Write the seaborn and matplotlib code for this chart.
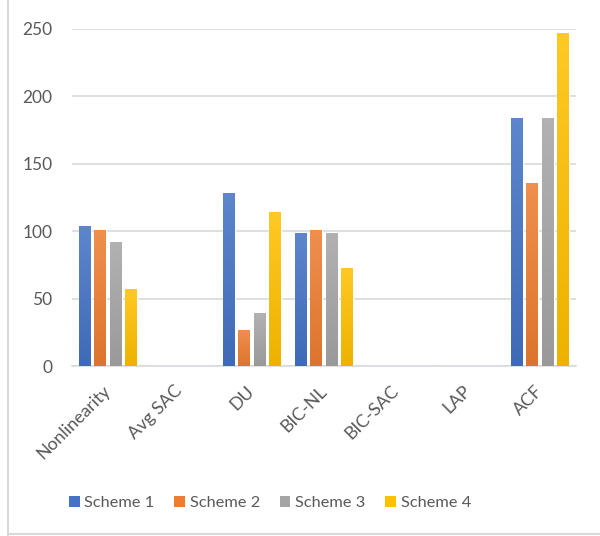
import numpy as np
import pandas as pd
import matplotlib
matplotlib.use("Agg")
import matplotlib.pyplot as plt
import matplotlib.colors as mcolors
from matplotlib.patches import Patch
from matplotlib.lines import Line2D
import seaborn as sns

categories = ["Nonlinearity", "Avg SAC", "DU", "BIC-NL", "BIC-SAC", "LAP", "ACF"]
schemes = ["Scheme 1", "Scheme 2", "Scheme 3", "Scheme 4"]
scheme1 = [104, 0, 128, 99, 0, 0, 184]
scheme2 = [101, 0, 27, 101, 0, 0, 136]
scheme3 = [92, 0, 39, 99, 0, 0, 184]
scheme4 = [57, 0, 114, 73, 0, 0, 247]
colors = ["#4472C4", "#ED7D31", "#A5A5A5", "#FFC000"]

df = pd.DataFrame({
    "category": categories * 4,
    "scheme": [s for s in schemes for _ in categories],
    "value": scheme1 + scheme2 + scheme3 + scheme4,
})

sns.set_theme(style="white")
plt.rcParams["font.family"] = ["Lato", "DejaVu Sans"]
text_color = "#595959"
grid_color = "#D9D9D9"

fig = plt.figure(figsize=(6.0, 5.36), dpi=100)
ax = fig.add_axes([0.12, 0.317, 0.84, 0.629])

sns.barplot(data=df, x="category", y="value", hue="scheme", order=categories,
            hue_order=schemes, palette=colors, width=0.86, gap=0.25,
            saturation=1, legend=False, ax=ax, zorder=2)

ax.set_ylim(0, 250)
ax.set_xlim(-0.5, len(categories) - 0.5)
ax.set_yticks(np.arange(0, 251, 50))
ax.yaxis.grid(True, color=grid_color, linewidth=1.2, zorder=0)
ax.set_axisbelow(True)
for side in ["left", "right", "top"]:
    ax.spines[side].set_visible(False)
ax.spines["bottom"].set_color("#D9D9E2")
ax.spines["bottom"].set_linewidth(1.2)
ax.set_xlabel("")
ax.set_ylabel("")
ax.tick_params(axis="y", length=0, pad=14, labelsize=12.5, labelcolor=text_color)
ax.tick_params(axis="x", length=0, pad=16, labelsize=12.8, labelcolor=text_color)
plt.setp(ax.get_xticklabels(), rotation=45, ha="right", va="center",
         rotation_mode="anchor")


def shade(c, f):
    rgb = np.array(mcolors.to_rgb(c))
    if f >= 0:
        return rgb + (1 - rgb) * f
    return rgb * (1 + f)


# soft vertical gradient on every bar, lighter toward the top
for patch in ax.patches:
    h = patch.get_height()
    if h <= 0:
        continue
    base = patch.get_facecolor()[:3]
    top, bottom = shade(base, 0.14), shade(base, -0.07)
    t = np.linspace(0, 1, 64)[:, None]
    grad = (top[None, :] * (1 - t) + bottom[None, :] * t)[:, None, :]
    x0, y0 = patch.get_x(), patch.get_y()
    im = ax.imshow(grad, extent=[x0, x0 + patch.get_width(), y0, y0 + h],
                   aspect="auto", origin="upper", zorder=3, interpolation="bilinear")
    im.set_clip_path(patch)
ax.set_xlim(-0.5, len(categories) - 0.5)
ax.set_ylim(0, 250)

handles = [Patch(facecolor=c, edgecolor="none") for c in colors]
fig.legend(handles, schemes, loc="center", bbox_to_anchor=(0.45, 0.062), ncol=4,
           frameon=False, fontsize=11.8, labelcolor=text_color, handlelength=0.65,
           handleheight=0.65, handletextpad=0.3, columnspacing=1.2)

# chart-area border
fig.add_artist(Line2D([0.013, 0.013], [0.0, 1.0], color="#D9D9D9", linewidth=1.5,
                      transform=fig.transFigure))
fig.add_artist(Line2D([0.013, 1.0], [0.003, 0.003], color="#D9D9D9", linewidth=1.5,
                      transform=fig.transFigure))

fig.savefig("out.png", dpi=100, facecolor="white")
